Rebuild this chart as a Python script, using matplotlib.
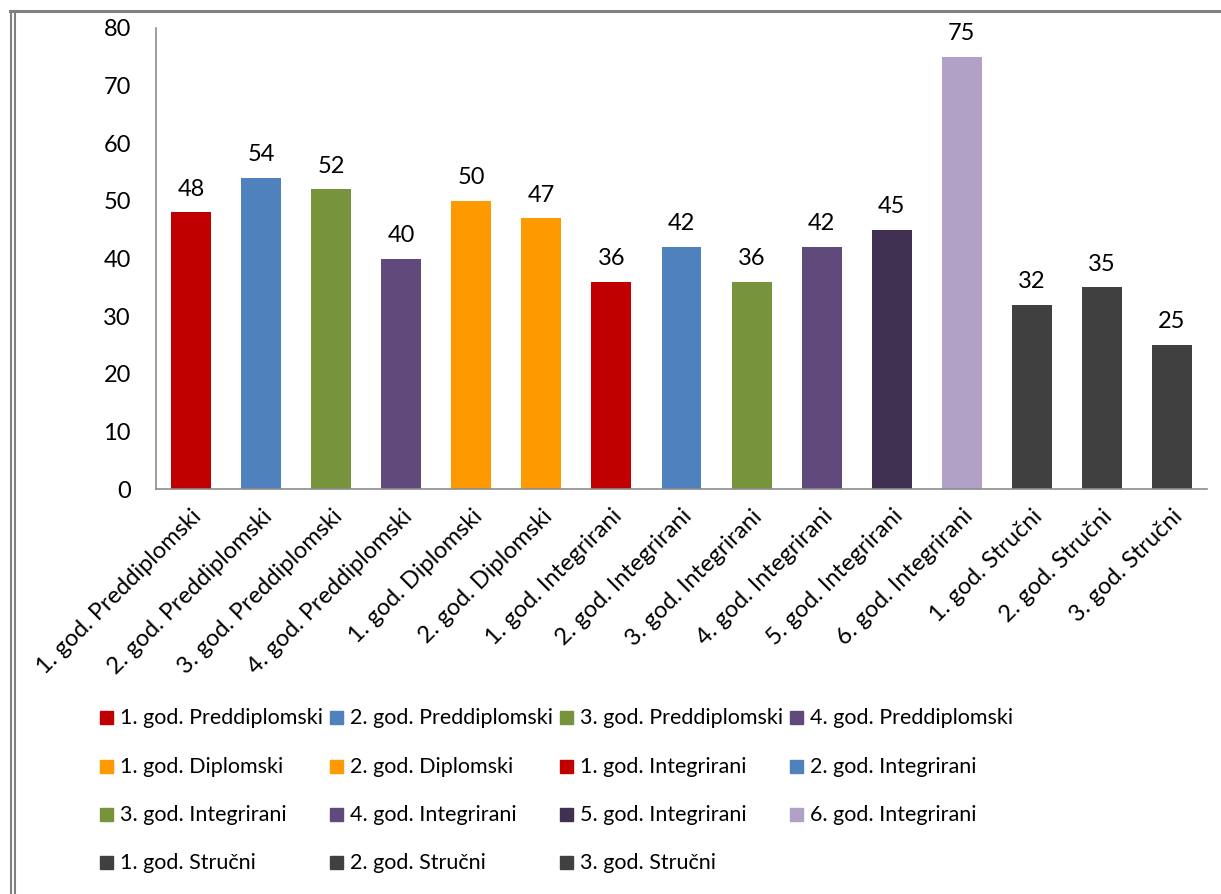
import matplotlib.pyplot as plt
from matplotlib.lines import Line2D
from matplotlib.patches import Rectangle

plt.rcParams['font.family'] = ['Lato', 'DejaVu Sans']

# data
categories = ["1. god. Preddiplomski", "2. god. Preddiplomski", "3. god. Preddiplomski",
              "4. god. Preddiplomski", "1. god. Diplomski", "2. god. Diplomski",
              "1. god. Integrirani", "2. god. Integrirani", "3. god. Integrirani",
              "4. god. Integrirani", "5. god. Integrirani", "6. god. Integrirani",
              "1. god. Stručni", "2. god. Stručni", "3. god. Stručni"]
values = [48, 54, 52, 40, 50, 47, 36, 42, 36, 42, 45, 75, 32, 35, 25]
colors = ["#C00000", "#4F81BD", "#77933C", "#604A7B", "#FF9900", "#FF9900",
          "#C00000", "#4F81BD", "#77933C", "#604A7B", "#403152", "#B2A1C7",
          "#404040", "#404040", "#404040"]

W, H = 1221, 894
fig = plt.figure(figsize=(W / 100, H / 100), dpi=100)
ax = fig.add_axes([156 / W, 1 - 489 / H, (1207 - 156) / W, (489 - 28) / H])

x = range(len(values))
bars = ax.bar(x, values, width=0.57, color=colors)
for b, v in zip(bars, values):
    ax.annotate(str(v), (b.get_x() + b.get_width() / 2, v), xytext=(0, 9),
                textcoords="offset points", ha="center", va="bottom", fontsize=17)

ax.set_xlim(-0.5, len(values) - 0.5)
ax.set_ylim(0, 80)
ax.set_yticks(range(0, 81, 10))
ax.tick_params(axis="y", length=0, pad=18, labelsize=17)
ax.set_xticks(list(x))
ax.set_xticklabels(categories, rotation=45, ha="right", rotation_mode="anchor", fontsize=17)
ax.tick_params(axis="x", length=0, pad=12)
for s in ["top", "right"]:
    ax.spines[s].set_visible(False)
for s in ["left", "bottom"]:
    ax.spines[s].set_color("#8c8c8c")
    ax.spines[s].set_linewidth(1.2)

# legend laid out row by row, four columns
col_x = [100, 330, 560, 790]
row_y = [718, 767, 815, 863]
for i, (lab, c) in enumerate(zip(categories, colors)):
    r, k = divmod(i, 4)
    px, py = col_x[k], row_y[r]
    fig.add_artist(Rectangle((px / W, 1 - (py + 6) / H), 13 / W, 13 / H,
                             transform=fig.transFigure, color=c))
    fig.text((px + 20) / W, 1 - py / H, lab, fontsize=15.5, va="center", ha="left")

# outer frame
fig.add_artist(Line2D([10 / W, 1], [1 - 11 / H, 1 - 11 / H], color="#808080", lw=2.2))
for lx in [11, 15]:
    fig.add_artist(Line2D([lx / W, lx / W], [0, 1 - 11 / H], color="#808080", lw=1.5))

fig.savefig("out.png", dpi=100)
